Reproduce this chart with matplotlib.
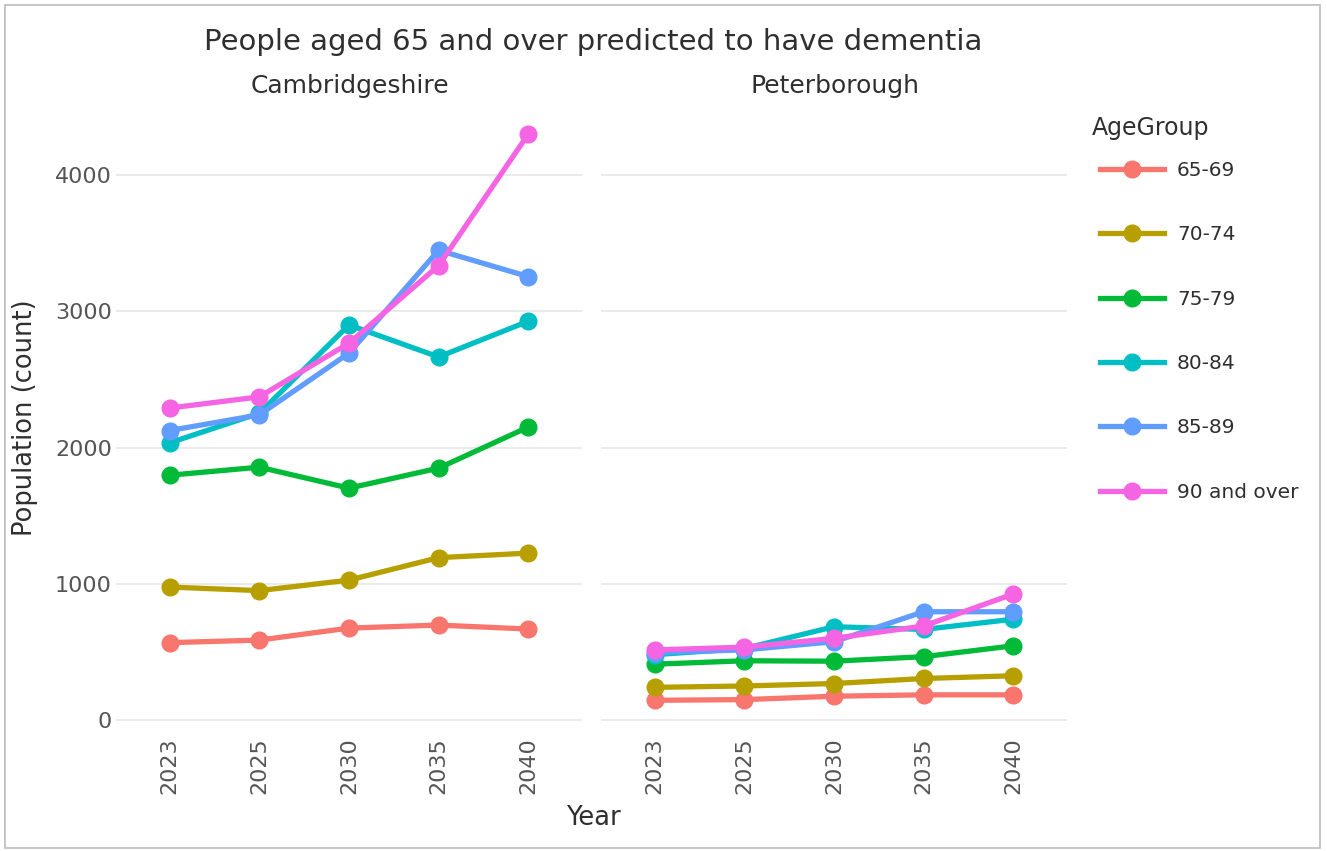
import matplotlib
matplotlib.use("Agg")
import matplotlib.pyplot as plt
from matplotlib.lines import Line2D
from matplotlib.patches import Rectangle

years = ["2023", "2025", "2030", "2035", "2040"]
age_groups = ["65-69", "70-74", "75-79", "80-84", "85-89", "90 and over"]
colors = ["#F8766D", "#B79F00", "#00BA38", "#00BFC4", "#619CFF", "#F564E3"]

cambs_65_69 = [568, 587, 675, 697, 668]
cambs_70_74 = [976, 950, 1027, 1192, 1225]
cambs_75_79 = [1797, 1856, 1702, 1849, 2150]
cambs_80_84 = [2035, 2252, 2900, 2665, 2927]
cambs_85_89 = [2125, 2240, 2693, 3448, 3255]
cambs_90_over = [2290, 2372, 2766, 3335, 4300]

peter_65_69 = [145, 150, 175, 185, 185]
peter_70_74 = [240, 250, 268, 305, 325]
peter_75_79 = [410, 435, 432, 465, 545]
peter_80_84 = [480, 525, 685, 665, 740]
peter_85_89 = [495, 515, 575, 795, 795]
peter_90_over = [515, 535, 600, 690, 925]

cambs = [cambs_65_69, cambs_70_74, cambs_75_79, cambs_80_84, cambs_85_89, cambs_90_over]
peter = [peter_65_69, peter_70_74, peter_75_79, peter_80_84, peter_85_89, peter_90_over]
panels = ["Cambridgeshire", "Peterborough"]
yticks = [0, 1000, 2000, 3000, 4000]

W, H = 1327, 851
fig = plt.figure(figsize=(W / 100, H / 100), dpi=100)
fig.patch.set_facecolor("white")

def fx(px):
    return px / W

def fy(py):
    return 1 - py / H

top, bottom = 108, 730
ax1 = fig.add_axes([fx(116), fy(bottom), fx(582 - 116), fy(top) - fy(bottom)])
ax2 = fig.add_axes([fx(601), fy(bottom), fx(1067 - 601), fy(top) - fy(bottom)])

tick_color = "#555555"
text_color = "#2f2f2f"
for ax, data, name in zip([ax1, ax2], [cambs, peter], panels):
    x = list(range(len(years)))
    for vals, col, lab in zip(data, colors, age_groups):
        ax.plot(x, vals, color=col, lw=3.8, marker="o", ms=12, label=lab,
                solid_capstyle="round", zorder=3)
    ax.set_xlim(-0.6, 4.6)
    ax.set_ylim(-73, 4492)
    ax.set_yticks(yticks)
    ax.set_xticks(x)
    ax.set_xticklabels(years, rotation=90, color=tick_color, fontsize=16)
    ax.grid(axis="y", color="#e8e8e8", lw=1.3, zorder=0)
    ax.grid(axis="x", visible=False)
    for s in ax.spines.values():
        s.set_visible(False)
    ax.tick_params(axis="x", length=0, pad=5)
    ax.tick_params(axis="y", length=0, pad=3)

ax1.set_yticklabels([str(v) for v in yticks], color=tick_color, fontsize=16)
ax2.set_yticklabels([])

fig.text(fx(350), fy(86), panels[0], ha="center", va="center", fontsize=18, color=text_color)
fig.text(fx(835), fy(86), panels[1], ha="center", va="center", fontsize=18, color=text_color)
fig.text(fx(25), fy(418), "Population (count)", ha="center", va="center",
         rotation=90, fontsize=18.5, color=text_color)
fig.text(fx(593), fy(818), "Year", ha="center", va="center", fontsize=18.5, color=text_color)
fig.text(fx(593), fy(42), "People aged 65 and over predicted to have dementia",
         ha="center", va="center", fontsize=21, color=text_color)

fig.text(fx(1092), fy(128), "AgeGroup", ha="left", va="center", fontsize=17, color=text_color)
handles = [Line2D([0], [0], color=c, lw=3.8, marker="o", ms=12) for c in colors]
leg = fig.legend(handles, age_groups, loc="upper left",
                 bbox_to_anchor=(fx(1100), fy(161)), frameon=False,
                 fontsize=14.5, handlelength=3.2, borderpad=0, borderaxespad=0,
                 labelspacing=2.25, handletextpad=0.62)
for t in leg.get_texts():
    t.set_color(text_color)

fig.add_artist(Rectangle((fx(5), fy(848)), fx(1315), fy(5) - fy(848),
                         transform=fig.transFigure, fill=False,
                         edgecolor="#bbbbbb", lw=1.2))

fig.savefig("out.png", dpi=100)
